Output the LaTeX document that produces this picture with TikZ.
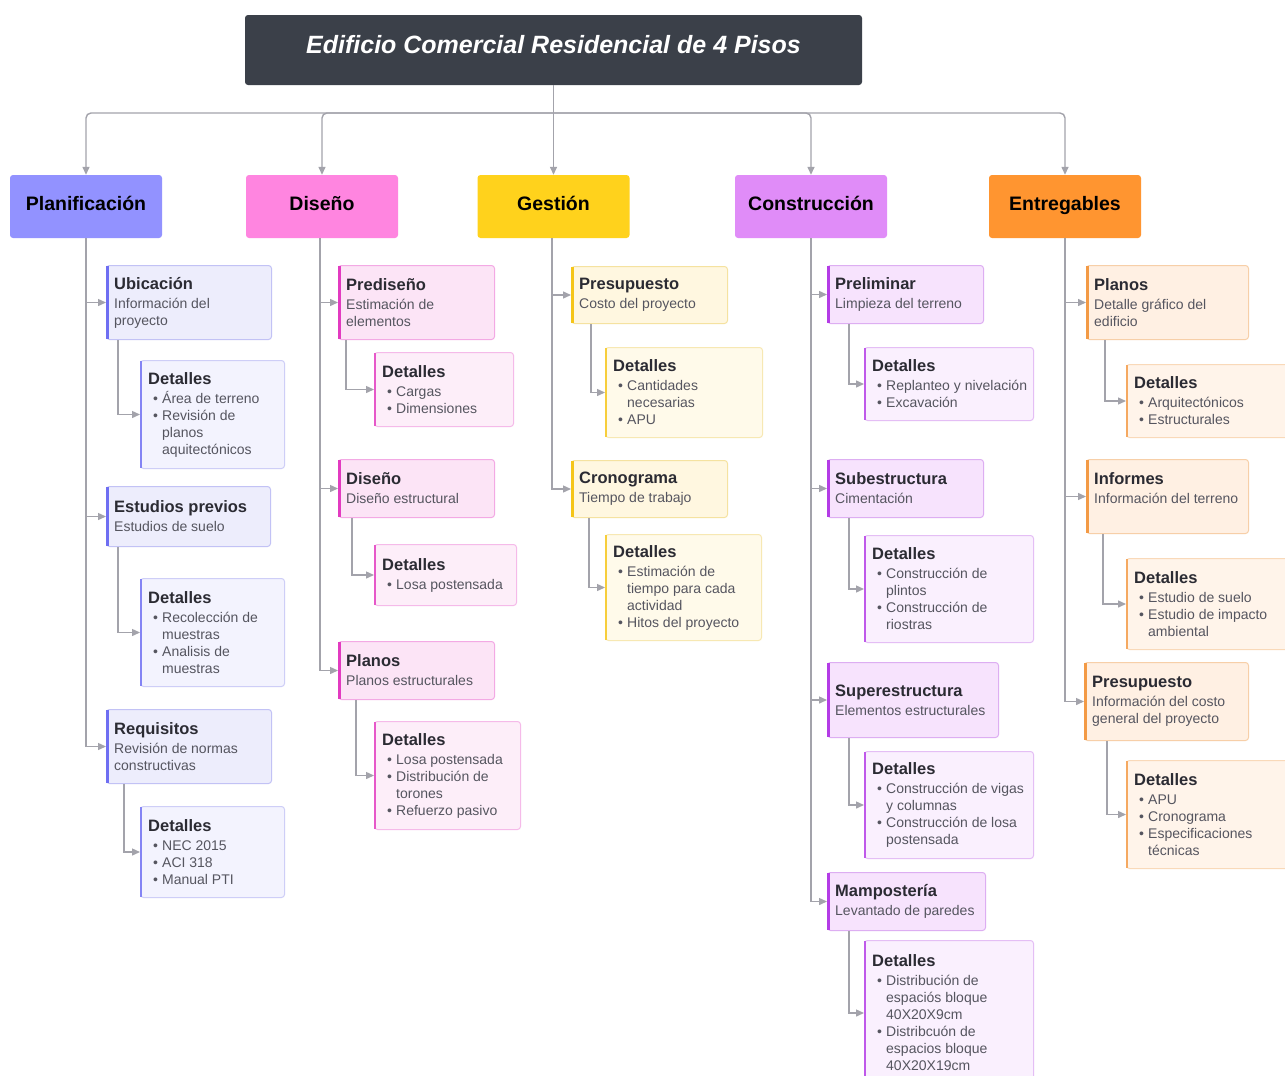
\documentclass[tikz,border=0pt]{standalone}
\usepackage{fontspec}
\setmainfont{Liberation Sans}
\usetikzlibrary{arrows.meta}
\definecolor{conncol}{HTML}{A3A3AB}
\definecolor{titlebg}{HTML}{3B4049}
\definecolor{ttext}{HTML}{2B2B33}
\definecolor{stext}{HTML}{55555F}
\definecolor{catA}{HTML}{9292FF}\definecolor{accA}{HTML}{6E6EF2}\definecolor{fillA}{HTML}{EDEDFC}\definecolor{fillAd}{HTML}{F3F3FE}\definecolor{bordA}{HTML}{C2C2F5}
\definecolor{catB}{HTML}{FF85E0}\definecolor{accB}{HTML}{E23BC0}\definecolor{fillB}{HTML}{FCE4F6}\definecolor{fillBd}{HTML}{FDEEF9}\definecolor{bordB}{HTML}{F3A9E4}
\definecolor{catC}{HTML}{FFD21C}\definecolor{accC}{HTML}{F5C518}\definecolor{fillC}{HTML}{FFF7E0}\definecolor{fillCd}{HTML}{FFFAEA}\definecolor{bordC}{HTML}{F5E2A0}
\definecolor{catD}{HTML}{E08CF8}\definecolor{accD}{HTML}{B43CE6}\definecolor{fillD}{HTML}{F7E3FD}\definecolor{fillDd}{HTML}{FAF0FE}\definecolor{bordD}{HTML}{DDAEF2}
\definecolor{catE}{HTML}{FF9530}\definecolor{accE}{HTML}{F39A45}\definecolor{fillE}{HTML}{FFF0E3}\definecolor{fillEd}{HTML}{FFF4EA}\definecolor{bordE}{HTML}{F7CFA8}
\newcommand\tf{\fontsize{16.5}{19}\selectfont\bfseries\color{ttext}}
\newcommand\bl{\makebox[14pt][l]{\hspace{5pt}•}}
\newcommand\cl{\hspace*{14pt}}
\tikzset{
  conn/.style={draw=conncol, line width=1.4pt, -{Triangle[length=8pt,width=7pt]}},
  shellbox/.style={rectangle, rounded corners=3pt, line width=1pt, anchor=north west, inner sep=0pt},
  itemtext/.style={anchor=west, inner sep=0pt, align=left, text=stext, font=\fontsize{14}{17}\selectfont},
  catbox/.style={rectangle, rounded corners=3pt, minimum width=152pt, minimum height=63pt, text height=14pt, text depth=7pt, font=\fontsize{19.5}{23}\selectfont\bfseries, text=black},
}
% #1 palette letter, #2 node name, #3 x, #4 y, #5 w, #6 h, #7 content
\newcommand\mkparent[7]{%
  \node[shellbox, fill=fill#1, draw=bord#1, minimum width=#5pt, minimum height=#6pt] (#2) at (#3,#4) {};
  \draw[line width=3pt, acc#1] ([xshift=1.5pt,yshift=-1pt]#2.north west) -- ([xshift=1.5pt,yshift=1pt]#2.south west);
  \node[itemtext] (#2t) at ([xshift=8pt]#2.west) {#7};
}
\newcommand\mkdetail[7]{%
  \node[shellbox, fill=fill#1d, draw=bord#1!80, minimum width=#5pt, minimum height=#6pt] (#2) at (#3,#4) {};
  \draw[line width=2.2pt, acc#1!85] ([xshift=1.1pt,yshift=-1pt]#2.north west) -- ([xshift=1.1pt,yshift=1pt]#2.south west);
  \node[itemtext] (#2t) at ([xshift=8pt]#2.west) {#7};
}
\begin{document}
\begin{tikzpicture}[x=1pt,y=-1pt]
\useasboundingbox (0,0) rectangle (1285,1076);
\fill[white] (0,0) rectangle (1285,1076);

% title
\node[rectangle, rounded corners=3pt, fill=titlebg, minimum width=617pt, minimum height=70pt, text height=18pt, text depth=12pt, text=white, font=\fontsize{25}{30}\selectfont\bfseries\itshape] (title) at (553.5,50) {Edificio Comercial Residencial de 4 Pisos};

% categories
\node[catbox, fill=catA] (plan) at (86,206.5) {Planificación};
\node[catbox, fill=catB] (dise) at (322,206.5) {Diseño};
\node[catbox, fill=catC] (gest) at (553.5,206.5) {Gestión};
\node[catbox, fill=catD] (cons) at (811,206.5) {Construcción};
\node[catbox, fill=catE] (entr) at (1065,206.5) {Entregables};

\coordinate (hub) at (553.5,113);
\draw[conn] (title.south) -- (gest.north);
\draw[conn, rounded corners=5pt] (hub) -| (plan.north);
\draw[conn, rounded corners=5pt] (hub) -| (dise.north);
\draw[conn, rounded corners=5pt] (hub) -| (cons.north);
\draw[conn, rounded corners=5pt] (hub) -| (entr.north);

% ---------- Planificacion
\mkparent{A}{ubic}{106}{265}{165}{74}{{\tf Ubicación}\\[2pt]Información del\\proyecto}
\mkdetail{A}{ubicD}{140}{360}{144}{108}{{\tf Detalles}\\[2pt]\bl Área de terreno\\\bl Revisión de\\\cl planos\\\cl aquitectónicos}
\mkparent{A}{estu}{106}{486}{164}{60}{{\tf Estudios previos}\\[2pt]Estudios de suelo}
\mkdetail{A}{estuD}{140}{578}{144}{108}{{\tf Detalles}\\[2pt]\bl Recolección de\\\cl muestras\\\bl Analisis de\\\cl muestras}
\mkparent{A}{requ}{106}{709}{165}{74}{{\tf Requisitos}\\[2pt]Revisión de normas\\constructivas}
\mkdetail{A}{requD}{140}{806}{144}{91}{{\tf Detalles}\\[2pt]\bl NEC 2015\\\bl ACI 318\\\bl Manual PTI}

\draw[conn] (plan.south) |- (ubic.west);
\draw[conn] (plan.south) |- (estu.west);
\draw[conn] (plan.south) |- (requ.west);
\draw[conn] ([xshift=12pt]ubic.south west) |- (ubicD.west);
\draw[conn] ([xshift=12pt]estu.south west) |- (estuD.west);
\draw[conn] ([xshift=18pt]requ.south west) |- (requD.west);

% ---------- Diseno
\mkparent{B}{pred}{338}{265}{156}{74}{{\tf Prediseño}\\[2pt]Estimación de\\elementos}
\mkdetail{B}{predD}{374}{352}{139}{74}{{\tf Detalles}\\[2pt]\bl Cargas\\\bl Dimensiones}
\mkparent{B}{dest}{338}{459}{156}{58}{{\tf Diseño}\\[2pt]Diseño estructural}
\mkdetail{B}{destD}{374}{544}{142}{61}{{\tf Detalles}\\[2pt]\bl Losa postensada}
\mkparent{B}{plae}{338}{641}{156}{58}{{\tf Planos}\\[2pt]Planos estructurales}
\mkdetail{B}{plaeD}{374}{721}{146}{108}{{\tf Detalles}\\[2pt]\bl Losa postensada\\\bl Distribución de\\\cl torones\\\bl Refuerzo pasivo}

\draw[conn] ([xshift=-2pt]dise.south) |- (pred.west);
\draw[conn] ([xshift=-2pt]dise.south) |- (dest.west);
\draw[conn] ([xshift=-2pt]dise.south) |- (plae.west);
\draw[conn] ([xshift=8pt]pred.south west) |- (predD.west);
\draw[conn] ([xshift=14pt]dest.south west) |- (destD.west);
\draw[conn] ([xshift=18pt]plae.south west) |- (plaeD.west);

% ---------- Gestion
\mkparent{C}{pres}{571}{266}{156}{57}{{\tf Presupuesto}\\[2pt]Costo del proyecto}
\mkdetail{C}{presD}{605}{347}{157}{90}{{\tf Detalles}\\[2pt]\bl Cantidades\\\cl necesarias\\\bl APU}
\mkparent{C}{cron}{571}{460}{156}{57}{{\tf Cronograma}\\[2pt]Tiempo de trabajo}
\mkdetail{C}{cronD}{605}{534}{156}{106}{{\tf Detalles}\\[2pt]\bl Estimación de\\\cl tiempo para cada\\\cl actividad\\\bl Hitos del proyecto}

\draw[conn] ([xshift=-1.5pt]gest.south) |- (pres.west);
\draw[conn] ([xshift=-1.5pt]gest.south) |- (cron.west);
\draw[conn] ([xshift=20pt]pres.south west) |- (presD.west);
\draw[conn] ([xshift=18pt]cron.south west) |- (cronD.west);

% ---------- Construccion
\mkparent{D}{prel}{827}{265}{156}{58}{{\tf Preliminar}\\[2pt]Limpieza del terreno}
\mkdetail{D}{prelD}{864}{347}{169}{73}{{\tf Detalles}\\[2pt]\bl Replanteo y nivelación\\\bl Excavación}
\mkparent{D}{subs}{827}{459}{156}{58}{{\tf Subestructura}\\[2pt]Cimentación}
\mkdetail{D}{subsD}{864}{535}{169}{107}{{\tf Detalles}\\[2pt]\bl Construcción de\\\cl plintos\\\bl Construcción de\\\cl riostras}
\mkparent{D}{supe}{827}{662}{171}{75}{{\tf Superestructura}\\[2pt]Elementos estructurales}
\mkdetail{D}{supeD}{864}{751}{169}{107}{{\tf Detalles}\\[2pt]\bl Construcción de vigas\\\cl y columnas\\\bl Construcción de losa\\\cl postensada}
\mkparent{D}{mamp}{827}{872}{158}{58}{{\tf Mampostería}\\[2pt]Levantado de paredes}
\mkdetail{D}{mampD}{864}{940}{169}{145}{{\tf Detalles}\\[2pt]\bl Distribución de\\\cl espaciós bloque\\\cl 40X20X9cm\\\bl Distribcuón de\\\cl espacios bloque\\\cl 40X20X19cm}

\draw[conn] (cons.south) |- (prel.west);
\draw[conn] (cons.south) |- (subs.west);
\draw[conn] (cons.south) |- (supe.west);
\draw[conn] (cons.south) |- (mamp.west);
\draw[conn] ([xshift=22pt]prel.south west) |- (prelD.west);
\draw[conn] ([xshift=22pt]subs.south west) |- (subsD.west);
\draw[conn] ([xshift=22pt]supe.south west) |- (supeD.west);
\draw[conn] ([xshift=22pt]mamp.south west) |- (mampD.west);

% ---------- Entregables
\mkparent{E}{epla}{1086}{265}{162}{74}{{\tf Planos}\\[2pt]Detalle gráfico del\\edificio}
\mkdetail{E}{eplaD}{1126}{364}{166}{73}{{\tf Detalles}\\[2pt]\bl Arquitectónicos\\\bl Estructurales}
\mkparent{E}{info}{1086}{459}{162}{74}{{\tf Informes}\\[2pt]Información del terreno\\\mbox{}}
\mkdetail{E}{infoD}{1126}{558}{166}{91}{{\tf Detalles}\\[2pt]\bl Estudio de suelo\\\bl Estudio de impacto\\\cl ambiental}
\mkparent{E}{epre}{1084}{662}{164}{78}{{\tf Presupuesto}\\[2pt]Información del costo\\general del proyecto}
\mkdetail{E}{epreD}{1126}{760}{166}{108}{{\tf Detalles}\\[2pt]\bl APU\\\bl Cronograma\\\bl Especificaciones\\\cl técnicas}

\draw[conn] (entr.south) |- (epla.west);
\draw[conn] (entr.south) |- (info.west);
\draw[conn] (entr.south) |- (epre.west);
\draw[conn] ([xshift=19pt]epla.south west) |- (eplaD.west);
\draw[conn] ([xshift=17pt]info.south west) |- (infoD.west);
\draw[conn] ([xshift=23pt]epre.south west) |- (epreD.west);
\end{tikzpicture}
\end{document}
